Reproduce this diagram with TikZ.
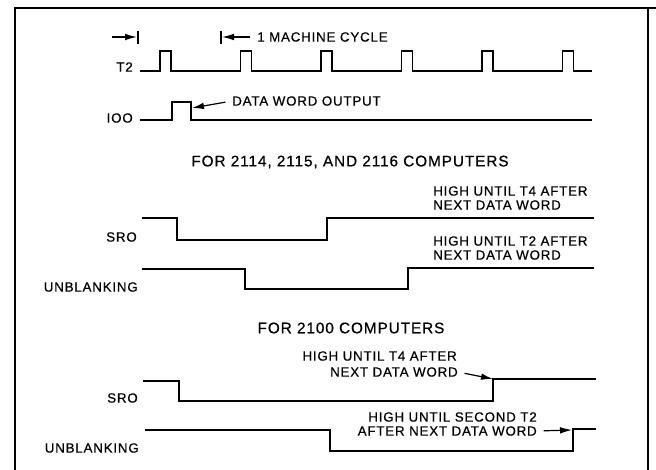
\documentclass[tikz,border=0pt]{standalone}
\usepackage{fontspec}
\setmainfont{Liberation Sans}[LetterSpace=6,FakeBold=0.6]
\usetikzlibrary{arrows.meta}

\tikzset{
  wave/.style={line width=1.3pt,line join=miter},
  lbl/.style={inner sep=0pt,font=\fontsize{10}{11}\selectfont},
  head/.style={inner sep=0pt,font=\fontsize{11.5}{13}\selectfont},
  pointer/.style={line width=.9pt,shorten <=5pt,-{Latex[length=9pt,width=5pt]}},
}

\begin{document}
\begin{tikzpicture}[x=.75pt,y=-.75pt]
  \useasboundingbox (0,0) rectangle (656,470);
  % frame, open at the bottom
  \draw[line width=2pt](15,470)--(15,8)--(656,8);
  \draw[line width=2pt](648,8)--(648,470);

  % machine cycle marks
  \coordinate (m0) at (137,37);
  \coordinate (m1) at (222,37);
  \coordinate (m0tail) at (112,37);
  \draw[line width=.9pt](138,31)--(138,44);
  \draw[line width=.9pt](221,31)--(221,44);
  \draw[pointer,shorten <=0pt](m0tail)--(m0);
  \node[lbl,anchor=west] (cycle) at (257,37) {1 MACHINE CYCLE};
  \draw[pointer](cycle.west)--(m1);

  % T2 and IOO
  \node[lbl,anchor=east] (t2) at (133,67) {T2};
  \draw[wave](140,71) foreach \r in {160,240.5,321,401.5,482,562.5}
    {--(\r,71)--(\r,51)--(\r+11,51)--(\r+11,71)} --(592,71);
  \node[lbl,anchor=east] (ioo) at (133,118) {IOO};
  \draw[wave](140,120)--(172,120)--(172,102)--(191,102)--(191,120)--(592,120);
  \coordinate (iooF) at (192,108);
  \node[lbl,anchor=west] (dwo) at (232,101) {DATA WORD OUTPUT};
  \draw[pointer](dwo.west)--(iooF);

  % 2114, 2115 and 2116
  \node[head] (hd1) at (350,162) {FOR 2114, 2115, AND 2116 COMPUTERS};
  \node[lbl,anchor=east] (sro1) at (137,237) {SRO};
  \draw[wave](142,218)--(177,218)--(177,240)--(327,240)--(327,218)--(594,218);
  \node[lbl,anchor=west] (n1a) at (433,191) {HIGH UNTIL T4 AFTER};
  \node[lbl,anchor=west] (n1b) at (433,205) {NEXT DATA WORD};
  \node[lbl,anchor=east] (ub1) at (138,287) {UNBLANKING};
  \draw[wave](142,269)--(245,269)--(245,289)--(408,289)--(408,268)--(594,268);
  \node[lbl,anchor=west] (n2a) at (433,241) {HIGH UNTIL T2 AFTER};
  \node[lbl,anchor=west] (n2b) at (433,255) {NEXT DATA WORD};

  % 2100
  \node[head] (hd2) at (351,328) {FOR 2100 COMPUTERS};
  \node[lbl,anchor=east] (sro2) at (138,398) {SRO};
  \draw[wave](143,381)--(179,381)--(179,401)--(493,401)--(493,379)--(596,379);
  \coordinate (sroUp) at (493,379);
  \node[lbl,anchor=east] (n3a) at (457,356) {HIGH UNTIL T4 AFTER};
  \node[lbl,anchor=east] (n3b) at (458,372) {NEXT DATA WORD};
  \draw[pointer](n3b.east)--(sroUp);
  \node[lbl,anchor=east] (ub2) at (139,448) {UNBLANKING};
  \draw[wave](145,430)--(330,430)--(330,451)--(573,451)--(573,429)--(596,429);
  \coordinate (ubUp) at (572,430);
  \node[lbl,anchor=east] (n4a) at (537,417) {HIGH UNTIL SECOND T2};
  \node[lbl,anchor=east] (n4b) at (537,431) {AFTER NEXT DATA WORD};
  \draw[pointer](n4b.east)--(ubUp);
\end{tikzpicture}
\end{document}
